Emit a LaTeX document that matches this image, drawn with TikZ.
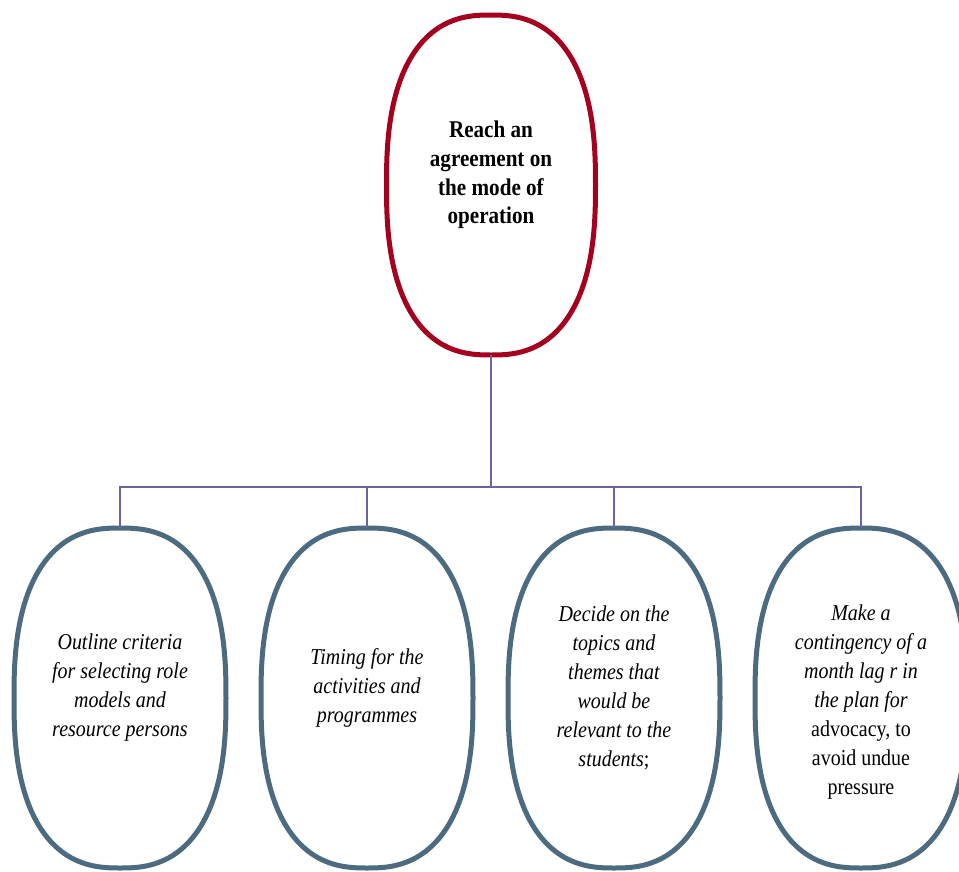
\documentclass[tikz,border=0pt]{standalone}
\usepackage{fontspec}
\setmainfont{Liberation Serif}[FakeStretch=0.88]
\definecolor{topred}{HTML}{A6001F}
\definecolor{slate}{HTML}{4C6B80}
\definecolor{conn}{HTML}{6A64A2}
\tikzset{
  topbox/.style={rectangle, minimum width=209pt, minimum height=340pt, inner sep=0pt},
  subbox/.style={rectangle, minimum width=212pt, minimum height=340pt, inner sep=0pt},
  topline/.style={draw=topred, line width=5pt, line join=round},
  subline/.style={draw=slate, line width=5pt, line join=round},
  toptext/.style={align=center, font=\fontsize{24}{28.7}\selectfont\bfseries, inner sep=0pt},
  subtext/.style={align=center, font=\fontsize{22.7}{29}\selectfont\itshape, inner sep=0pt},
  link/.style={draw=conn, line width=1.6pt}
}
% superellipse outline: #1 style, #2 node, #3 half width, #4 half height
\newcommand\superoval[4]{%
  \begin{scope}[shift={(#2.center)}]
  \draw[#1]
    plot[domain=0:90, samples=45, variable=\t]
      ({#3*pow(cos(\t)+0.00001,0.8)}, {-#4*pow(sin(\t)+0.00001,0.8)})
    -- plot[domain=90:0, samples=45, variable=\t]
      ({-#3*pow(cos(\t)+0.00001,0.8)}, {-#4*pow(sin(\t)+0.00001,0.8)})
    -- plot[domain=0:90, samples=45, variable=\t]
      ({-#3*pow(cos(\t)+0.00001,0.8)}, {#4*pow(sin(\t)+0.00001,0.8)})
    -- plot[domain=90:0, samples=45, variable=\t]
      ({#3*pow(cos(\t)+0.00001,0.8)}, {#4*pow(sin(\t)+0.00001,0.8)})
    -- cycle;
  \end{scope}}
\begin{document}
\begin{tikzpicture}[x=1pt,y=-1pt]
\useasboundingbox (0,0) rectangle (959,871);
\clip (0,0) rectangle (959,871);
\node[topbox] (top) at (491,185) {};
\superoval{topline}{top}{104.5}{170}
\node[toptext] (toptxt) at (491,175) {Reach an\\agreement on\\the mode of\\operation};
\node[subbox] (c1) at (120,698) {};
\node[subbox] (c2) at (367,698) {};
\node[subbox] (c3) at (614,698) {};
\node[subbox] (c4) at (861,698) {};
\superoval{subline}{c1}{106}{170}
\superoval{subline}{c2}{106}{170}
\superoval{subline}{c3}{106}{170}
\superoval{subline}{c4}{106}{170}
\node[subtext] (t1) at (120,688) {Outline criteria\\for selecting role\\models and\\resource persons};
\node[subtext] (t2) at (367,688) {Timing for the\\activities and\\programmes};
\node[subtext] (t3) at (614,688) {Decide on the\\topics and\\themes that\\would be\\relevant to the\\students\upshape;};
\node[subtext] (t4) at (861,702) {Make a\\contingency of a\\month lag r in\\the plan for\\\upshape advocacy, to\\\upshape avoid undue\\\upshape pressure};
\coordinate (bus) at (491,487);
\draw[link] (top.south) -- (bus);
\draw[link] (bus) -| (c1.north);
\draw[link] (bus) -| (c4.north);
\draw[link] (bus) -| (c2.north);
\draw[link] (bus) -| (c3.north);
\end{tikzpicture}
\end{document}
